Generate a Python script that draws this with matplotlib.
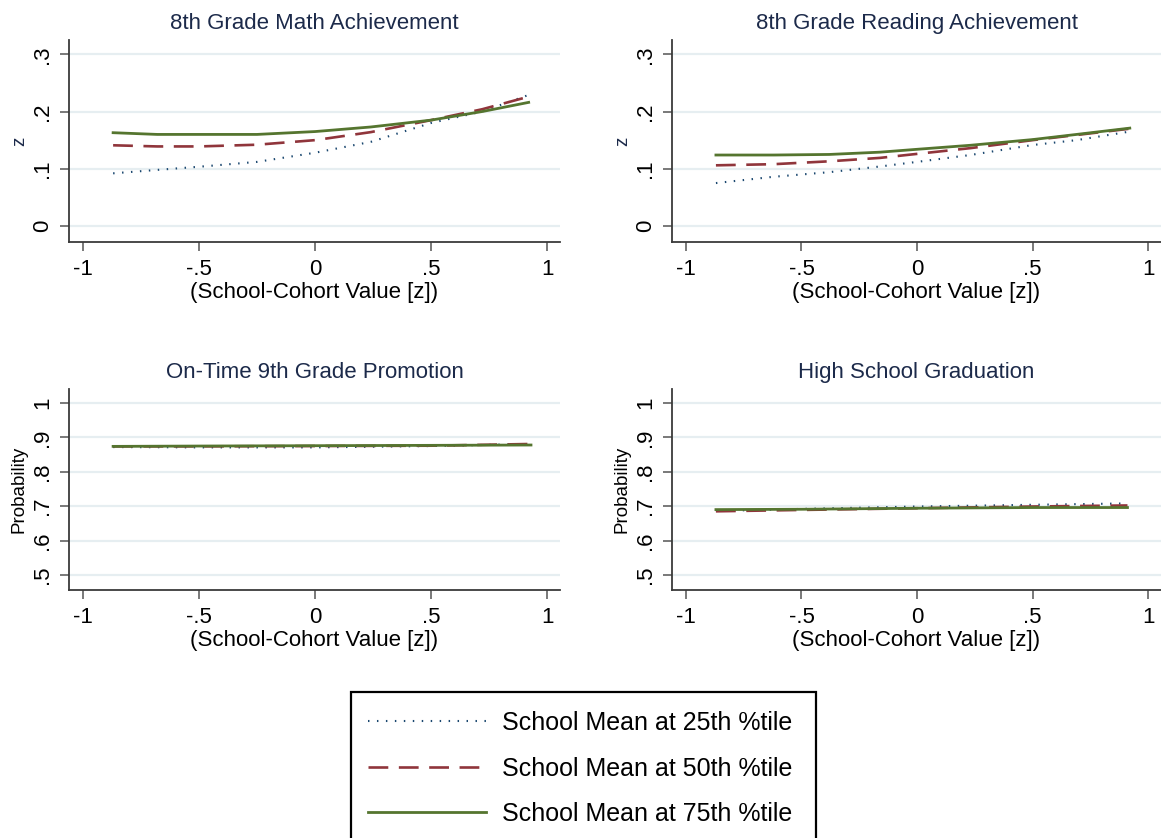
import matplotlib
matplotlib.use("Agg")
import matplotlib.pyplot as plt
from matplotlib.lines import Line2D
from matplotlib.patches import Rectangle

plt.rcParams['font.family'] = ['Liberation Sans', 'DejaVu Sans']

# ---------------- data ----------------
titles = ["8th Grade Math Achievement", "8th Grade Reading Achievement",
          "On-Time 9th Grade Promotion", "High School Graduation"]
ylabels = ["z", "z", "Probability", "Probability"]
series_labels = ["School Mean at 25th %tile", "School Mean at 50th %tile",
                 "School Mean at 75th %tile"]

x_ticks = [-1, -0.5, 0, 0.5, 1]
x_ticklabels = ["-1", "-.5", "0", ".5", "1"]
z_ticks = [0, 0.1, 0.2, 0.3]
z_ticklabels = ["0", ".1", ".2", ".3"]
p_ticks = [0.5, 0.6, 0.7, 0.8, 0.9, 1.0]
p_ticklabels = [".5", ".6", ".7", ".8", ".9", "1"]

math_x = [-0.87, -0.68, -0.5, -0.25, 0.0, 0.24, 0.5, 0.72, 0.92]
math_p25 = [0.092, 0.098, 0.1035, 0.112, 0.128, 0.147, 0.180, 0.200, 0.229]
math_p50 = [0.141, 0.139, 0.139, 0.142, 0.150, 0.164, 0.185, 0.204, 0.226]
math_p75 = [0.163, 0.160, 0.160, 0.160, 0.165, 0.173, 0.185, 0.200, 0.216]

read_x = [-0.87, -0.62, -0.38, -0.16, 0.0, 0.23, 0.5, 0.69, 0.92]
read_p25 = [0.075, 0.086, 0.094, 0.104, 0.112, 0.124, 0.1415, 0.150, 0.165]
read_p50 = [0.106, 0.108, 0.113, 0.119, 0.126, 0.136, 0.150, 0.159, 0.170]
read_p75 = [0.124, 0.124, 0.125, 0.129, 0.134, 0.141, 0.151, 0.160, 0.171]

prom_x = [-0.87, -0.5, 0.0, 0.5, 0.93]
prom_p25 = [0.872, 0.871, 0.871, 0.875, 0.881]
prom_p50 = [0.874, 0.874, 0.875, 0.876, 0.881]
prom_p75 = [0.874, 0.875, 0.876, 0.877, 0.878]

grad_x = [-0.87, -0.5, 0.0, 0.5, 0.91]
grad_p25 = [0.686, 0.692, 0.699, 0.704, 0.708]
grad_p50 = [0.685, 0.689, 0.694, 0.699, 0.702]
grad_p75 = [0.690, 0.691, 0.694, 0.696, 0.696]

panels = [
    (math_x, [math_p25, math_p50, math_p75]),
    (read_x, [read_p25, read_p50, read_p75]),
    (prom_x, [prom_p25, prom_p50, prom_p75]),
    (grad_x, [grad_p25, grad_p50, grad_p75]),
]

# ---------------- styles ----------------
colors = ["#1a476f", "#90353b", "#55752f"]
styles = [dict(lw=1.5, ls=(0, (0.7, 3.6))),
          dict(lw=1.9, ls=(0, (7.5, 4.0))),
          dict(lw=2.0, ls="-")]
title_color = "#1c2a4a"
grid_color = "#e6eef1"
spine_color = "#3a3a3a"

W, H = 1161, 838
fig = plt.figure(figsize=(W / 100, H / 100), dpi=100)

def px_rect(x0, x1, ytop, ybot):
    return [x0 / W, 1 - ybot / H, (x1 - x0) / W, (ybot - ytop) / H]

rects = [px_rect(69, 560, 40, 242), px_rect(672, 1161, 40, 242),
         px_rect(69, 560, 389, 590), px_rect(672, 1161, 389, 590)]
ylims = [(-0.028, 0.325), (-0.028, 0.325), (0.456, 1.041), (0.456, 1.041)]

for i, (rect, (xs, ys)) in enumerate(zip(rects, panels)):
    ax = fig.add_axes(rect)
    is_z = i < 2
    yt = z_ticks if is_z else p_ticks
    ytl = z_ticklabels if is_z else p_ticklabels
    for t in yt:
        ax.axhline(t, color=grid_color, lw=1.6, zorder=0)
    for y, c, st in zip(ys, colors, styles):
        ax.plot(xs, y, color=c, lw=st["lw"], ls=st["ls"], zorder=2)
    ax.set_xlim(-1.06, 1.055)
    ax.set_ylim(*ylims[i])
    ax.set_xticks(x_ticks)
    ax.set_xticklabels(x_ticklabels, fontsize=16)
    ax.set_yticks(yt)
    ax.set_yticklabels(ytl, fontsize=16, rotation=90, va="center")
    for s in ["top", "right"]:
        ax.spines[s].set_visible(False)
    for s in ["left", "bottom"]:
        ax.spines[s].set_color(spine_color)
        ax.spines[s].set_linewidth(1.3)
    ax.tick_params(axis="both", direction="out", length=6.5, width=1.1,
                   color="#555555", labelcolor="black")
    ax.tick_params(axis="x", pad=6)
    ax.tick_params(axis="y", pad=5)
    ax.set_title(titles[i], fontsize=16, color=title_color, pad=8)
    ax.set_xlabel("(School-Cohort Value [z])", fontsize=16, labelpad=1)
    ax.set_ylabel(ylabels[i], fontsize=13.5, color=title_color if is_z else "black",
                  labelpad=3)

# legend
fig.patches.append(Rectangle((351 / W, -0.01), (816 - 351) / W, 1 - 692 / H + 0.01,
                             transform=fig.transFigure, fill=False,
                             edgecolor="black", lw=1.6, figure=fig))
handles = [Line2D([], [], color=c, lw=st["lw"], ls=st["ls"])
           for c, st in zip(colors, styles)]
leg = fig.legend(handles, series_labels, loc="upper left",
                 bbox_to_anchor=(358 / W, 1 - 701 / H), frameon=False,
                 fontsize=18, handlelength=4.7, handletextpad=0.65,
                 labelspacing=0.86, borderaxespad=0)

fig.savefig("out.png", dpi=100)
